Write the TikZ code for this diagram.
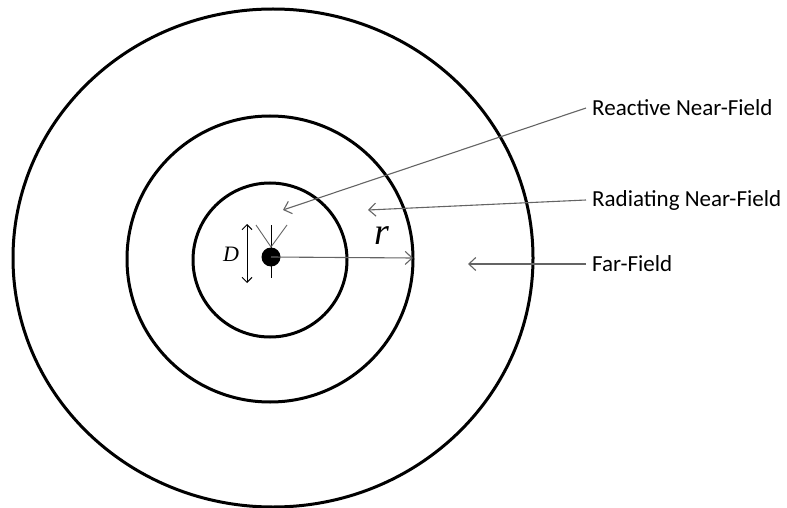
\documentclass[tikz,border=0pt]{standalone}
\usepackage{fontspec}
\setmainfont{Carlito}
\newfontfamily\symfont{Liberation Serif}
\usetikzlibrary{positioning,arrows.meta}
\definecolor{leadGray}{RGB}{100,100,100}

\begin{document}
\begin{tikzpicture}[x=1pt, y=-1pt,
  ring/.style={draw=black, line width=3pt},
  lead/.style={-{Straight Barb[length=7pt,width=13pt]}, leadGray, line width=1.1pt},
  zone/.style={font=\fontsize{23}{26}\selectfont, anchor=west, inner xsep=6pt, inner ysep=1pt},
  sym/.style={inner sep=0pt},
  dot/.style={circle, fill=black, minimum size=19pt, inner sep=0pt}
]
\useasboundingbox (0,0) rectangle (787,508);
% the three field regions
\draw[ring] (273,258) ellipse [x radius=260, y radius=249];
\draw[ring] (270,259) circle [radius=143];
\draw[ring] (270,260) circle [radius=77];
% antenna of size D at the centre
\node[dot] (feed) at (271,257) {};
\coordinate (mastTop) at (271,225);
\coordinate (mastBot) at (271,278);
\coordinate (vApex)   at (271,247);
\coordinate (vLeft)   at (256,225);
\coordinate (vRight)  at (287,225);
\draw[line width=1pt] (mastTop) -- (mastBot);
\draw[line width=0.9pt, leadGray] (vLeft) -- (vApex) -- (vRight);
\coordinate (dTop) at (247,224);
\coordinate (dBot) at (247,283);
\draw[{Straight Barb[length=5pt,width=10pt]}-{Straight Barb[length=5pt,width=10pt]}, line width=1pt] (dTop) -- (dBot);
\node[sym, font=\symfont\itshape\fontsize{22}{24}\selectfont] (Dlab) at (231,254) {D};
% radius r
\coordinate (rTip) at (413,258);
\draw[lead] (feed.center) -- (rTip);
\node[sym, font=\symfont\itshape\fontsize{38}{40}\selectfont] (rlab) at (382,236) {r};
% region labels
\node[zone] (RNF) at (586,108) {Reactive Near-Field};
\node[zone] (RAD) at (586,200) {Radiating Near-Field};
\node[zone] (FF)  at (586,264) {Far-Field};
\coordinate (rnfTip) at (283,210);
\coordinate (radTip) at (368,210);
\coordinate (ffTip)  at (468,264);
\draw[lead] (RNF.west) -- (rnfTip);
\draw[lead] (RAD.west) -- (radTip);
\draw[lead] (FF.west) -- (ffTip);
\end{tikzpicture}
\end{document}
